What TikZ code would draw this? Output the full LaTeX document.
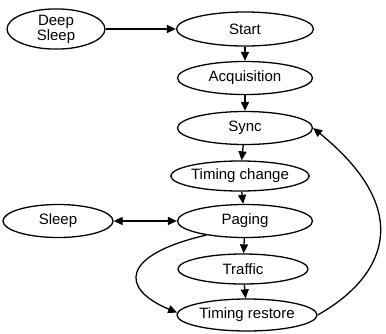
\documentclass[tikz,border=0pt]{standalone}
\usepackage{fontspec}
\setmainfont{Liberation Sans}
\usetikzlibrary{shapes.geometric,arrows.meta}
\begin{document}
\begin{tikzpicture}[x=1pt,y=-1pt,
  st/.style={draw,ellipse,line width=1.3pt,inner sep=0pt,font=\fontsize{15}{12.5}\selectfont,align=center},
  ar/.style={line width=1.3pt,-{Triangle[length=9pt,width=8pt]}},
  dar/.style={line width=1.3pt,{Triangle[length=9pt,width=8pt]}-{Triangle[length=9pt,width=8pt]}}]
\useasboundingbox (0,0) rectangle (386,333);
\node[st,minimum width=98pt,minimum height=34pt] (ds) at (56,29) {Deep\\Sleep};
\node[st,minimum width=137pt,minimum height=34pt] (start) at (245,29) {Start};
\node[st,minimum width=135pt,minimum height=33pt] (acq) at (245,78) {Acquisition};
\node[st,minimum width=135pt,minimum height=33pt] (sync) at (245,128) {Sync};
\node[st,minimum width=130pt,minimum height=30pt] (tc) at (240,176) {Timing change};
\node[st,minimum width=135pt,minimum height=33pt] (pag) at (245,221) {Paging};
\node[st,minimum width=130pt,minimum height=30pt] (tra) at (243,269) {Traffic};
\node[st,minimum width=140pt,minimum height=32pt] (tr) at (247,315) {Timing restore};
\node[st,minimum width=110pt,minimum height=33pt] (sl) at (58,221) {Sleep};
\draw[ar] (ds) -- (start);
\draw[ar] (start) -- (acq);
\draw[ar] (acq) -- (sync);
\draw[ar] (sync) -- (tc);
\draw[ar] (tc) -- (pag);
\draw[ar] (pag) -- (tra);
\draw[ar] (tra) -- (tr);
\draw[dar] (sl) -- (pag);
\draw[ar] (pag.200) .. controls (120,255) and (120,289) .. (tr.178);
\draw[ar] (tr.east) .. controls (380,280) and (420,215) .. (sync.east);
\end{tikzpicture}
\end{document}
